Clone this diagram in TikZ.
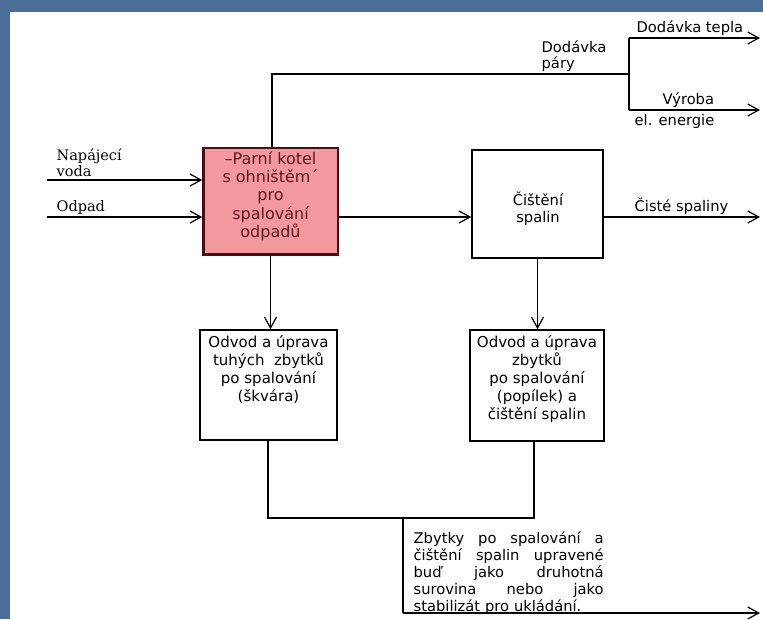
\documentclass[tikz,border=0pt]{standalone}
\usepackage{fontspec}
\setmainfont{DejaVu Serif}
\setsansfont{DejaVu Sans}
\usetikzlibrary{arrows.meta}
\definecolor{bgblue}{RGB}{74,110,152}
\definecolor{kotelfill}{RGB}{243,152,156}
\definecolor{koteldraw}{RGB}{75,12,18}
\definecolor{koteltext}{RGB}{95,25,28}
\newcommand{\jl}[1]{\leavevmode\hbox to 190pt{#1}}
\begin{document}
\begin{tikzpicture}[x=1pt,y=-1pt,
  line width=1.3pt,
  arr/.style={-{Straight Barb[length=11pt,width=12pt,line width=1.2pt]}},
  box/.style={draw, line width=1.5pt, fill=white, inner sep=0pt},
  sftxt/.style={font=\sffamily\fontsize{15}{18}\selectfont, inner sep=0pt, align=center},
  sflbl/.style={font=\sffamily\fontsize{14.7}{17}\selectfont, inner sep=0pt, anchor=base west},
  rmlbl/.style={font=\rmfamily\fontsize{14.5}{15}\selectfont, inner sep=0pt, anchor=base west}
]
\useasboundingbox (0,0) rectangle (763,619);
\fill[bgblue] (0,0) rectangle (763,619);
\fill[white] (10,12) rectangle (763,619);

% boxes
\node[box, draw=koteldraw, fill=kotelfill, minimum width=135pt, minimum height=107pt] (kotel) at (270.5,201.5) {};
\draw[koteldraw, line width=3.2pt] ([xshift=1pt]kotel.north west) -- ([xshift=1pt,yshift=1pt]kotel.south west) -- ([yshift=1pt]kotel.south east);
\node[sftxt, font=\sffamily\fontsize{16}{18.3}\selectfont, text=koteltext] (koteltxt) at (270.5,196) {–Parní kotel\\s ohništěm´\\pro\\spalování\\odpadů};

\node[box, minimum width=131pt, minimum height=108pt] (cist) at (537.5,204) {};
\node[sftxt, font=\sffamily\fontsize{14.7}{17}\selectfont] (cisttxt) at (538,209) {Čištění\\spalin};

\node[box, minimum width=137pt, minimum height=110pt] (odvod1) at (268.5,385) {};
\node[sftxt, anchor=north] (odvod1txt) at (268.5,335) {Odvod a úprava\\tuhých\ \ zbytků\\po spalování\\(škvára)};

\node[box, minimum width=134pt, minimum height=111pt] (odvod2) at (537,385.5) {};
\node[sftxt, anchor=north] (odvod2txt) at (537,335) {Odvod a úprava\\zbytků\\po spalování\\(popílek) a\\čištění spalin};

% coordinates
\coordinate (j1) at (272,74);
\coordinate (j2) at (629,74);
\coordinate (t1) at (629,38);
\coordinate (t2) at (629,110);
\coordinate (e1) at (760,38);
\coordinate (e2) at (760,110);
\coordinate (in1) at (47,180);
\coordinate (in2) at (47,217);
\coordinate (out1) at (760,217);
\coordinate (b1) at (268,518);
\coordinate (b2) at (534,518);
\coordinate (b3) at (403,518);
\coordinate (b4) at (403,613);
\coordinate (out2) at (760,613);

% connectors
\draw (kotel.north -| j1) -- (j1) -- (j2);
\draw (t1) -- (t2);
\draw[arr] (t1) -- (e1);
\draw[arr] (t2) -- (e2);
\draw[arr] (in1) -- (in1 -| kotel.west);
\draw[arr] (in2) -- (in2 -| kotel.west);
\draw[arr] (kotel.east |- in2) -- (cist.west |- in2);
\draw[arr] (cist.east |- out1) -- (out1);
\draw[arr] (kotel.south) -- (kotel.south |- odvod1.north);
\draw[arr] (cist.south) -- (cist.south |- odvod2.north);
\draw (odvod1.south -| b1) -- (b1) -- (b2) -- (odvod2.south -| b2);
\draw (b3) -- (b4);
\draw[arr] (b4) -- (out2);

% labels
\node[rmlbl] (napa1) at (56,160) {Napájecí};
\node[rmlbl] (napa2) at (56,176) {voda};
\node[rmlbl] (odpad) at (56,211) {Odpad};
\node[sflbl] (dodp1) at (541,52) {Dodávka};
\node[sflbl] (dodp2) at (541,68) {páry};
\node[sflbl] (dodt) at (636,32) {Dodávka tepla};
\node[sflbl] (vyr1) at (662,104) {Výroba};
\node[sflbl] (vyr2) at (634,125) {el. energie};
\node[sflbl] (cistsp) at (634,211) {Čisté spaliny};

\node[font=\sffamily\fontsize{14.7}{17}\selectfont, inner sep=0pt, anchor=north west, text width=190pt, align=left] (zbytky) at (413,531)
{\jl{Zbytky\hfill po\hfill spalování\hfill a}\\
\jl{čištění\hfill spalin\hfill upravené}\\
\jl{buď\hfill jako\hfill druhotná}\\
\jl{surovina\hfill nebo\hfill jako}\\
stabilizát pro ukládání.};
\end{tikzpicture}
\end{document}
